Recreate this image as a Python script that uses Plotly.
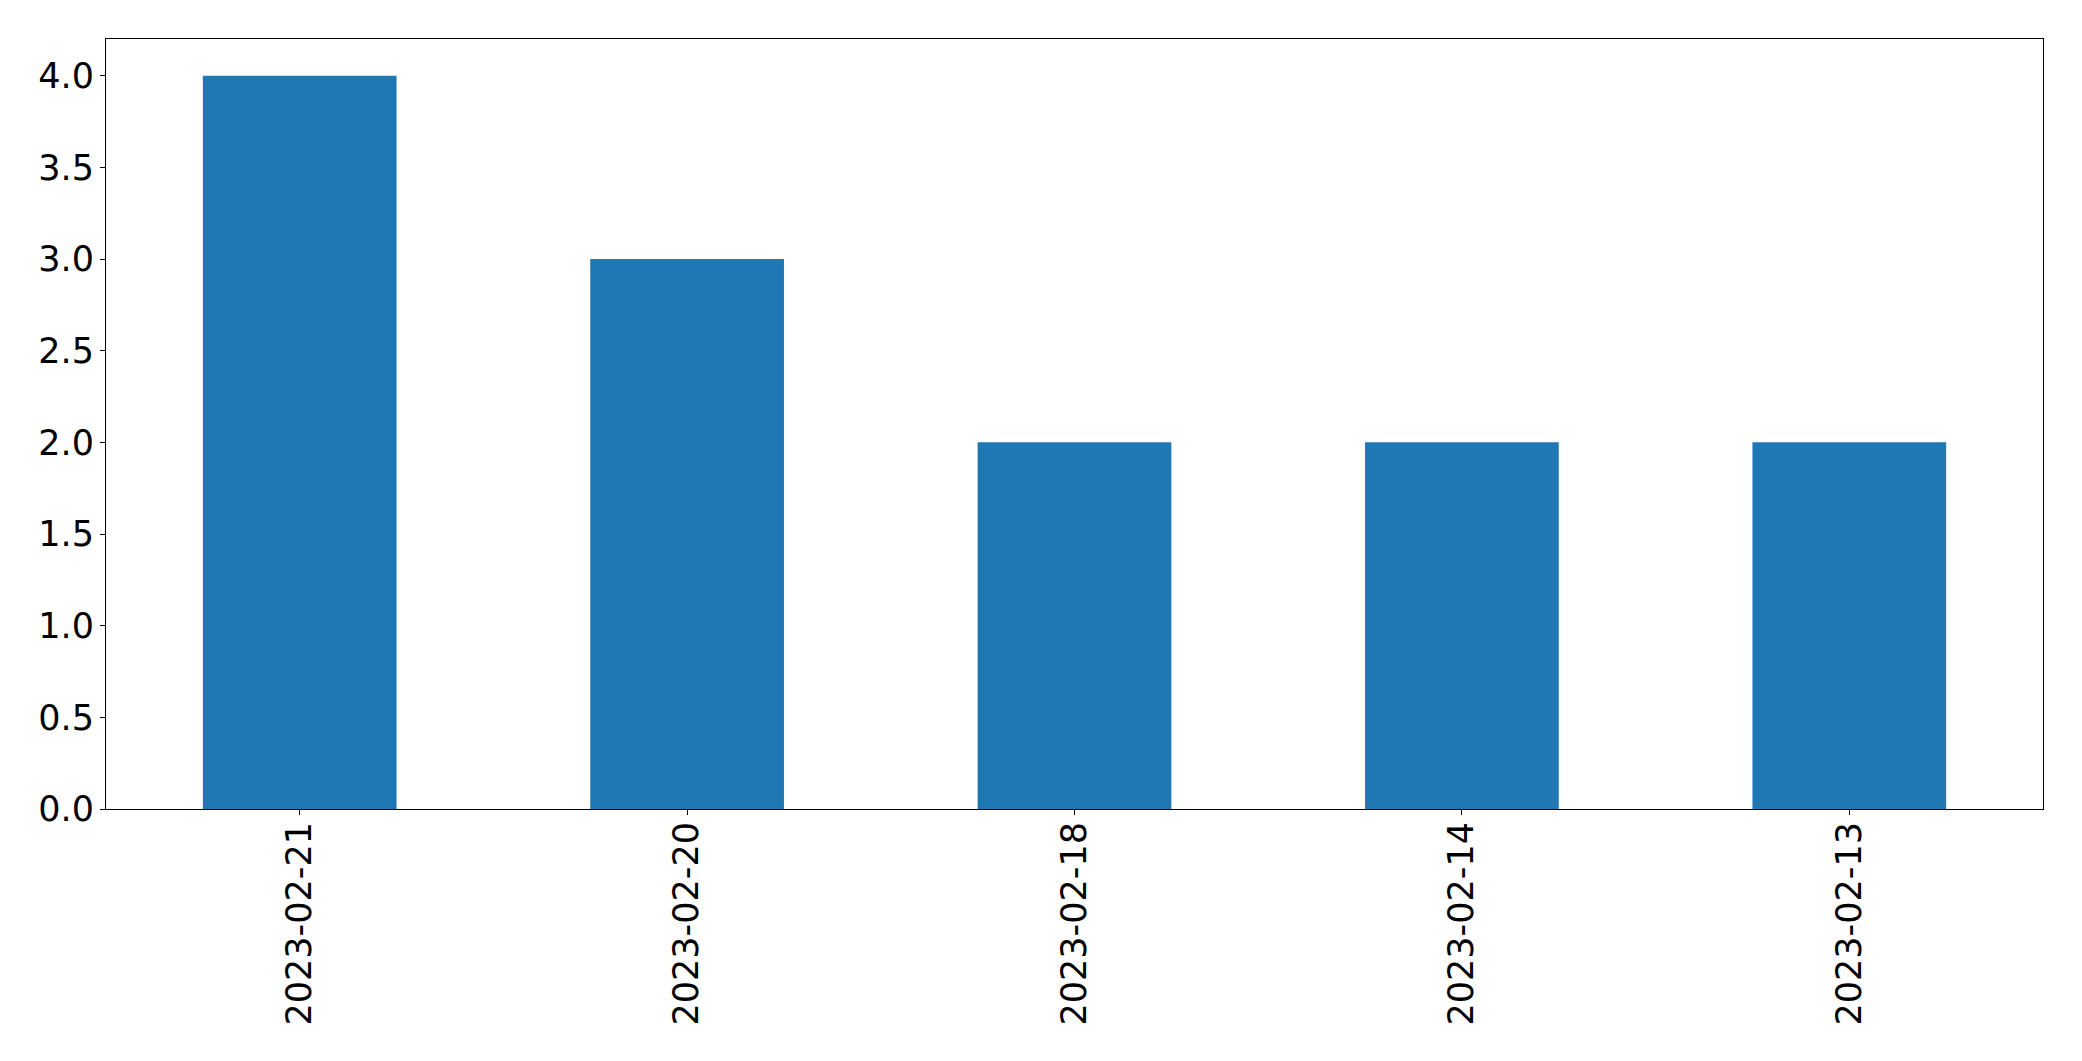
import plotly.graph_objects as go

categories = ["2023-02-21", "2023-02-20", "2023-02-18", "2023-02-14", "2023-02-13"]
values = [4, 3, 2, 2, 2]
y_tick_vals = [0.0, 0.5, 1.0, 1.5, 2.0, 2.5, 3.0, 3.5, 4.0]
y_tick_text = ["0.0", "0.5", "1.0", "1.5", "2.0", "2.5", "3.0", "3.5", "4.0"]

W, H = 2082, 1061
L, R, T, B = 105.5, 39, 39.3, 251.7

fig = go.Figure(
    go.Bar(
        x=list(range(len(categories))),
        y=values,
        width=0.5,
        marker=dict(color="#1f77b4", line=dict(width=0)),
    )
)

fig.update_layout(
    width=W,
    height=H,
    margin=dict(l=L, r=R, t=T, b=B, pad=0),
    paper_bgcolor="white",
    plot_bgcolor="white",
    showlegend=False,
    font=dict(family="DejaVu Sans", size=35, color="black"),
)

fig.update_xaxes(
    range=[-0.5, len(categories) - 0.5],
    tickmode="array",
    tickvals=list(range(len(categories))),
    ticktext=categories,
    tickangle=-90,
    ticks="outside",
    ticklen=5,
    tickwidth=1.1,
    tickcolor="black",
    showline=True,
    linecolor="black",
    linewidth=1.1,
    mirror=True,
    showgrid=False,
    zeroline=False,
    ticklabelstandoff=-7,
)

fig.update_yaxes(
    range=[0, 4.2],
    tickmode="array",
    tickvals=y_tick_vals,
    ticktext=y_tick_text,
    ticks="outside",
    ticklen=5,
    tickwidth=1.1,
    tickcolor="black",
    showline=True,
    linecolor="black",
    linewidth=1.1,
    mirror=True,
    showgrid=False,
    zeroline=False,
    ticklabelstandoff=-1,
)

fig.write_html("out.html")
